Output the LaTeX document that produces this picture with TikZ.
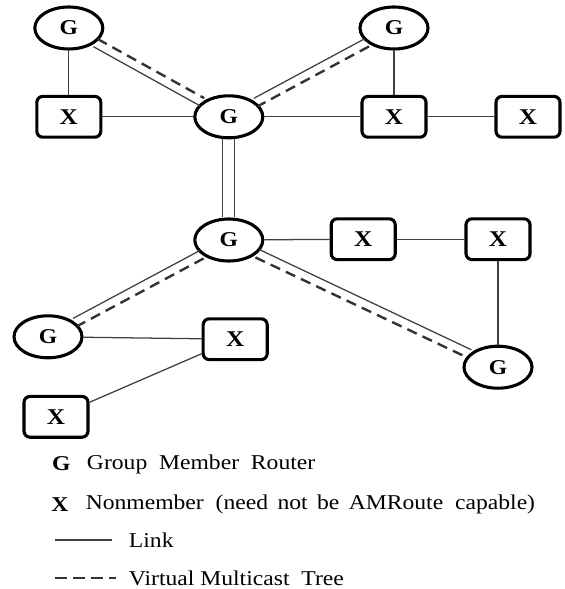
\documentclass[tikz,border=0pt]{standalone}
\usepackage{fontspec}
\setmainfont{Liberation Serif}[FakeStretch=1.12]
\usepackage{tikz}
\usetikzlibrary{shapes.geometric}

\begin{document}
\begin{tikzpicture}[font=\fontsize{15}{18}\selectfont,
    member/.style={draw, ellipse, line width=2.2pt, minimum width=1.7cm, minimum height=1.05cm, inner sep=0pt, font=\fontsize{15}{18}\selectfont\bfseries},
    nonmember/.style={draw, rounded corners=0.15cm, line width=2.2pt, minimum width=1.6cm, minimum height=1.02cm, inner sep=0pt, font=\fontsize{16}{18}\selectfont\bfseries},
    link/.style={draw=black!75, line width=0.9pt},
    tree/.style={draw=black!80, line width=1.7pt, dash pattern=on 0.26cm off 0.16cm}]
    \useasboundingbox (0,0) rectangle (14.1,-14.725);

    \node[member] (g1) at (1.72,-0.7) {G};
    \node[nonmember] (x1) at (1.72,-2.92) {X};
    \node[member] (gc) at (5.72,-2.92) {G};
    \node[member] (g2) at (9.85,-0.7) {G};
    \node[nonmember] (x2) at (9.85,-2.92) {X};
    \node[nonmember] (x3) at (13.2,-2.92) {X};
    \node[member] (gm) at (5.72,-6.0) {G};
    \node[nonmember] (xm1) at (9.08,-5.98) {X};
    \node[nonmember] (xm2) at (12.45,-5.98) {X};
    \node[member] (gbr) at (12.45,-9.18) {G};
    \node[member] (gbl) at (1.2,-8.42) {G};
    \node[nonmember] (xb1) at (5.88,-8.48) {X};
    \node[nonmember] (xb2) at (1.4,-10.42) {X};

    \draw[link] (g1) -- (x1);
    \draw[link] (x1) -- (gc);
    \draw[link] (gc) -- (x2);
    \draw[link] (x2) -- (x3);
    \draw[link] (g2) -- (x2);
    \draw[link] (gm) -- (xm1);
    \draw[link] (xm1) -- (xm2);
    \draw[link] (xm2) -- (gbr);
    \draw[link] (gbl) -- (xb1);
    \draw[link] (xb1) -- (xb2);

    \draw[link, transform canvas={shift={(-0.15,0)}}] (gc) -- (gm);
    \draw[link, transform canvas={shift={(0.15,0)}}] (gc) -- (gm);

    \draw[link, transform canvas={shift={(-0.053,-0.096)}}] (g1) -- (gc);
    \draw[tree, transform canvas={shift={(0.053,0.096)}}] (g1) -- (gc);
    \draw[link, transform canvas={shift={(-0.052,0.097)}}] (g2) -- (gc);
    \draw[tree, transform canvas={shift={(0.052,-0.097)}}] (g2) -- (gc);
    \draw[link, transform canvas={shift={(-0.051,0.097)}}] (gm) -- (gbl);
    \draw[tree, transform canvas={shift={(0.051,-0.097)}}] (gm) -- (gbl);
    \draw[link, transform canvas={shift={(0.047,0.099)}}] (gm) -- (gbr);
    \draw[tree, transform canvas={shift={(-0.047,-0.099)}}] (gm) -- (gbr);

    \node[anchor=west, font=\fontsize{15}{18}\selectfont\bfseries] (keyg) at (1.18,-11.6) {G};
    \node[anchor=west] (keygt) at (2.05,-11.6) {Group\ \ Member\ \ Router};
    \node[anchor=west, font=\fontsize{15}{18}\selectfont\bfseries] (keyx) at (1.16,-12.62) {X};
    \node[anchor=west] (keyxt) at (2.02,-12.62) {Nonmember\ \ (need\ \,not\ \,be\ \,AMRoute\ \ capable)};
    \coordinate (linka) at (1.38,-13.5);
    \coordinate (linkb) at (2.8,-13.5);
    \draw[link] (linka) -- (linkb);
    \node[anchor=west] (keylink) at (3.1,-13.5) {Link};
    \coordinate (treea) at (1.38,-14.45);
    \coordinate (treeb) at (2.9,-14.45);
    \draw[tree, line width=1.4pt, dash pattern=on 0.3cm off 0.15cm] (treea) -- (treeb);
    \node[anchor=west] (keytree) at (3.1,-14.45) {Virtual\ Multicast\ \ Tree};
\end{tikzpicture}
\end{document}
